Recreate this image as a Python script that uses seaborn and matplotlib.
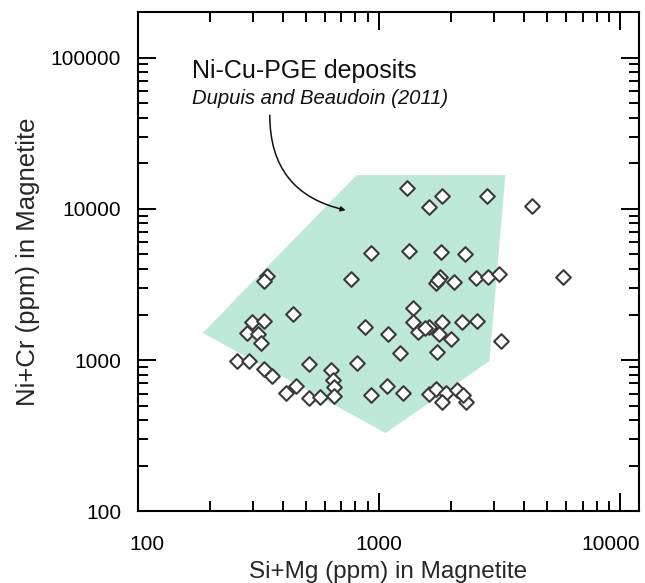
import matplotlib
matplotlib.use("Agg")
import matplotlib.pyplot as plt
import matplotlib.ticker as mticker
import matplotlib.transforms as mtransforms
import seaborn as sns
import pandas as pd

# ---- data ----
si_mg = [925, 770, 345, 333, 440, 297, 333, 284, 314, 326, 880, 1090,
         259, 290, 333, 359, 515, 636, 646, 652, 455, 414, 514, 569, 652,
         815, 925, 1080, 1310, 1830, 1610, 2810, 4320, 1330, 1810, 2280,
         1790, 1730, 1760, 2050, 2530, 2830, 3140, 5810, 1380, 1380, 1450,
         1620, 1560, 1825, 1775, 2000, 2210, 2560, 3215, 1220, 1740, 1260,
         1610, 1730, 1900, 1825, 2115, 2300, 2230]
ni_cr = [5100, 3430, 3600, 3330, 2010, 1780, 1820, 1515, 1480, 1290, 1660, 1490,
         990, 990, 872, 787, 937, 860, 738, 666, 673, 608, 563, 567, 578,
         960, 587, 673, 13800, 12200, 10200, 12200, 10500, 5250, 5200, 5020,
         3520, 3240, 3400, 3290, 3470, 3520, 3700, 3520, 2220, 1775, 1540,
         1660, 1620, 1775, 1480, 1380, 1790, 1820, 1336, 1120, 1135, 608,
         596, 643, 608, 525, 634, 525, 587]

field_x = [809, 3350, 2875, 1067, 186]
field_y = [16700, 16700, 985, 329, 1511]

x_ticks = [100, 1000, 10000]
x_tick_labels = ["100", "1000", "10000"]
y_ticks = [100, 1000, 10000, 100000]
y_tick_labels = ["100", "1000", "10000", "100000"]
x_minor = [200, 300, 400, 500, 600, 700, 800, 900,
           2000, 3000, 4000, 5000, 6000, 7000, 8000, 9000]
y_minor = [200, 300, 400, 500, 600, 700, 800, 900,
           2000, 3000, 4000, 5000, 6000, 7000, 8000, 9000,
           20000, 30000, 40000, 50000, 60000, 70000, 80000, 90000, 200000]

title = "Ni-Cu-PGE deposits"
subtitle = "Dupuis and Beaudoin (2011)"
xlabel = "Si+Mg (ppm) in Magnetite"
ylabel = "Ni+Cr (ppm) in Magnetite"

# ---- figure ----
sns.set_theme(style="white")
plt.rcParams["font.family"] = ["Liberation Sans", "DejaVu Sans"]

fig = plt.figure(figsize=(6.45, 5.83), dpi=100)
ax = fig.add_axes([0.2135, 0.123, 0.7772, 0.8564])
ax.set_xscale("log")
ax.set_yscale("log")
ax.set_xlim(100, 12000)
ax.set_ylim(100, 200000)

ax.fill(field_x, field_y, color="#bee9d8", lw=0, zorder=1)

df = pd.DataFrame({"x": si_mg, "y": ni_cr})
sns.scatterplot(data=df, x="x", y="y", ax=ax, marker="D", s=56,
                facecolor="white", edgecolor="#3a3a3a", linewidth=1.5,
                zorder=3, legend=False)

ax.xaxis.set_major_locator(mticker.FixedLocator(x_ticks))
ax.yaxis.set_major_locator(mticker.FixedLocator(y_ticks))
ax.xaxis.set_minor_locator(mticker.FixedLocator(x_minor))
ax.yaxis.set_minor_locator(mticker.FixedLocator(y_minor))
ax.xaxis.set_major_formatter(mticker.NullFormatter())
ax.yaxis.set_major_formatter(mticker.FixedFormatter(y_tick_labels))
ax.xaxis.set_minor_formatter(mticker.NullFormatter())
ax.yaxis.set_minor_formatter(mticker.NullFormatter())

ax.tick_params(which="both", direction="in", top=True, right=True,
               bottom=True, left=True, colors="black", width=1.4)
ax.tick_params(which="major", length=13, labelsize=15)
ax.tick_params(which="minor", length=7)
ax.tick_params(axis="y", which="major", pad=12)
for s in ax.spines.values():
    s.set_linewidth(1.5)
    s.set_color("black")

# x tick labels (end labels nudged inward as in the reference)
x_nudge = [7, 0, -7]
base = ax.get_xaxis_transform()
for t, lab, dx in zip(x_ticks, x_tick_labels, x_nudge):
    tr = mtransforms.offset_copy(base, fig=fig, x=dx, y=-17, units="points")
    ax.text(t, 0, lab, transform=tr, ha="center", va="top", fontsize=15,
            color="black", clip_on=False)

ax.set_xlabel(xlabel, fontsize=17.5, labelpad=32)
ax.set_ylabel(ylabel, fontsize=18.5, labelpad=8)

ax.text(0.108, 0.868, title, transform=ax.transAxes, fontsize=18,
        va="baseline", ha="left", color="#111111")
ax.text(0.108, 0.816, subtitle, transform=ax.transAxes, fontsize=14.6,
        style="italic", va="baseline", ha="left", color="#111111")

ax.annotate("", xy=(729, 9800), xytext=(353, 41600),
            arrowprops=dict(arrowstyle="-|>", color="#111111", lw=1.1,
                            mutation_scale=7,
                            connectionstyle="arc3,rad=0.4",
                            shrinkA=0, shrinkB=0))

fig.savefig("out.png", dpi=100)
